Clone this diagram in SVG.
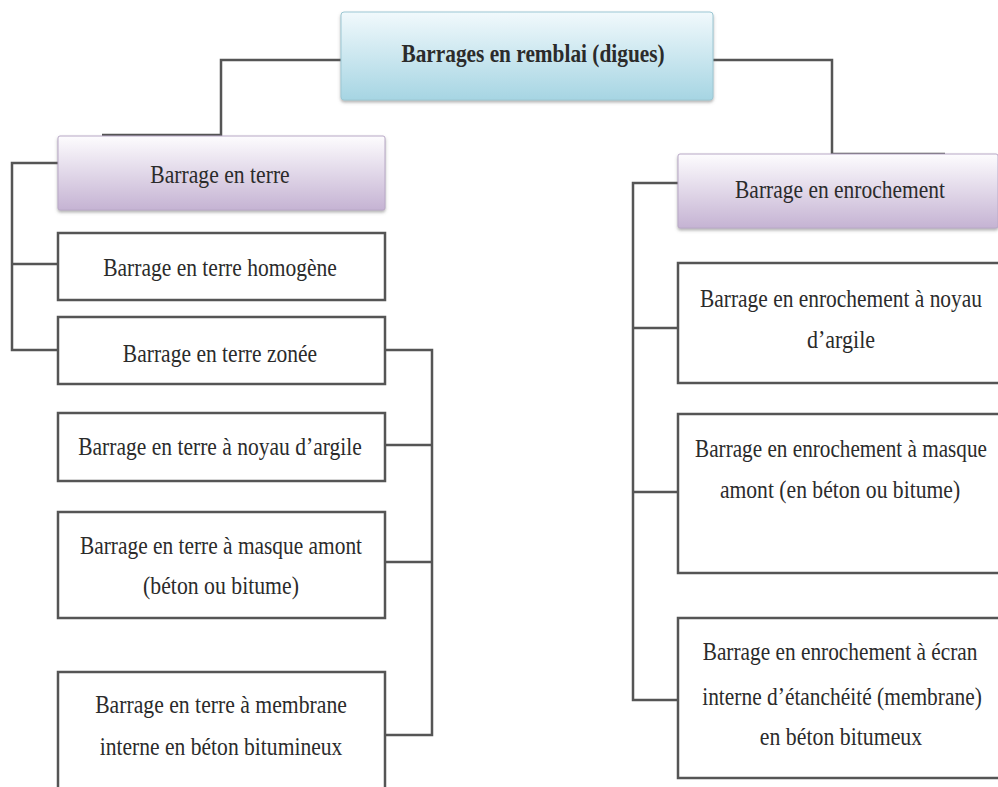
<svg xmlns="http://www.w3.org/2000/svg" width="998" height="787" viewBox="0 0 998 787">
<defs>
<linearGradient id="gBlue" x1="0" y1="0" x2="0" y2="1">
<stop offset="0" stop-color="#f1f9fc"/>
<stop offset="1" stop-color="#a6d5e3"/>
</linearGradient>
<linearGradient id="gPurple" x1="0" y1="0" x2="0" y2="1">
<stop offset="0" stop-color="#fdfcfe"/>
<stop offset="1" stop-color="#c5b3d3"/>
</linearGradient>
<filter id="sh" x="-5%" y="-10%" width="110%" height="130%">
<feDropShadow dx="0" dy="2" stdDeviation="1.5" flood-color="#666" flood-opacity="0.5"/>
</filter>
</defs>
<style>
.box{fill:#fff;stroke:#555;stroke-width:2.5}
.blue{fill:url(#gBlue);stroke:#9cc7d3;stroke-width:1;filter:url(#sh)}
.purple{fill:url(#gPurple);stroke:#b8a8c6;stroke-width:1;filter:url(#sh)}
.t{font-family:"Liberation Serif","Times New Roman",serif;font-size:26px;fill:#2b2b2b;text-anchor:middle}
.b{font-weight:bold}
.c{fill:none;stroke:#555;stroke-width:2.5}
</style>
<rect width="998" height="787" fill="#fff"/>
<g id="connectors">
<polyline class="c" points="341,60 221,60 221,135 102,135"/>
<polyline class="c" points="713,60 832,60 832,154 945,154"/>
<polyline class="c" points="58,163 12,163 12,350 58,350"/>
<line class="c" x1="12" y1="264" x2="58" y2="264"/>
<polyline class="c" points="385,350 432,350 432,735 385,735"/>
<line class="c" x1="385" y1="445" x2="432" y2="445"/>
<line class="c" x1="385" y1="562" x2="432" y2="562"/>
<polyline class="c" points="678,183 633,183 633,700 678,700"/>
<line class="c" x1="633" y1="328" x2="678" y2="328"/>
<line class="c" x1="633" y1="492" x2="678" y2="492"/>
</g>
<g id="root">
<rect class="blue" x="341" y="12" width="372" height="88" rx="3"/>
<text class="t b" transform="translate(533,62) scale(0.8,1)" textLength="329" lengthAdjust="spacingAndGlyphs">Barrages en remblai (digues)</text>
</g>
<g id="terre">
<rect class="purple" x="58" y="136" width="327" height="74" rx="2"/>
<text class="t" transform="translate(220,183) scale(0.82,1)" textLength="170" lengthAdjust="spacingAndGlyphs">Barrage en terre</text>
</g>
<g id="enrochement">
<rect class="purple" x="678" y="154" width="320" height="74" rx="2"/>
<text class="t" transform="translate(840,198) scale(0.82,1)" textLength="256" lengthAdjust="spacingAndGlyphs">Barrage en enrochement</text>
</g>
<g id="terre-homogene">
<rect class="box" x="58" y="233" width="327" height="67"/>
<text class="t" transform="translate(220,276) scale(0.82,1)" textLength="285" lengthAdjust="spacingAndGlyphs">Barrage en terre homogène</text>
</g>
<g id="terre-zonee">
<rect class="box" x="58" y="317" width="327" height="67"/>
<text class="t" transform="translate(220,362) scale(0.82,1)" textLength="237" lengthAdjust="spacingAndGlyphs">Barrage en terre zonée</text>
</g>
<g id="terre-noyau">
<rect class="box" x="58" y="413" width="327" height="68"/>
<text class="t" transform="translate(220,455) scale(0.82,1)" textLength="346" lengthAdjust="spacingAndGlyphs">Barrage en terre à noyau d’argile</text>
</g>
<g id="terre-masque">
<rect class="box" x="58" y="512" width="327" height="106"/>
<text class="t" transform="translate(221,554) scale(0.82,1)" textLength="344" lengthAdjust="spacingAndGlyphs">Barrage en terre à masque amont</text>
<text class="t" transform="translate(221,594) scale(0.82,1)" textLength="190" lengthAdjust="spacingAndGlyphs">(béton ou bitume)</text>
</g>
<g id="terre-membrane">
<rect class="box" x="58" y="672" width="327" height="130"/>
<text class="t" transform="translate(221,713) scale(0.82,1)" textLength="307" lengthAdjust="spacingAndGlyphs">Barrage en terre à membrane</text>
<text class="t" transform="translate(221,755) scale(0.82,1)" textLength="296" lengthAdjust="spacingAndGlyphs">interne en béton bitumineux</text>
</g>
<g id="enroch-noyau">
<rect class="box" x="678" y="263" width="330" height="120"/>
<text class="t" transform="translate(841,307) scale(0.82,1)" textLength="344" lengthAdjust="spacingAndGlyphs">Barrage en enrochement à noyau</text>
<text class="t" transform="translate(841,348) scale(0.82,1)" textLength="83" lengthAdjust="spacingAndGlyphs">d’argile</text>
</g>
<g id="enroch-masque">
<rect class="box" x="678" y="414" width="330" height="159"/>
<text class="t" transform="translate(841,457) scale(0.82,1)" textLength="356" lengthAdjust="spacingAndGlyphs">Barrage en enrochement à masque</text>
<text class="t" transform="translate(840,498) scale(0.82,1)" textLength="293" lengthAdjust="spacingAndGlyphs">amont (en béton ou bitume)</text>
</g>
<g id="enroch-ecran">
<rect class="box" x="678" y="618" width="330" height="160"/>
<text class="t" transform="translate(840,660) scale(0.82,1)" textLength="335" lengthAdjust="spacingAndGlyphs">Barrage en enrochement à écran</text>
<text class="t" transform="translate(842,705) scale(0.82,1)" textLength="341" lengthAdjust="spacingAndGlyphs">interne d’étanchéité (membrane)</text>
<text class="t" transform="translate(841,745) scale(0.82,1)" textLength="198" lengthAdjust="spacingAndGlyphs">en béton bitumeux</text>
</g>
</svg>
